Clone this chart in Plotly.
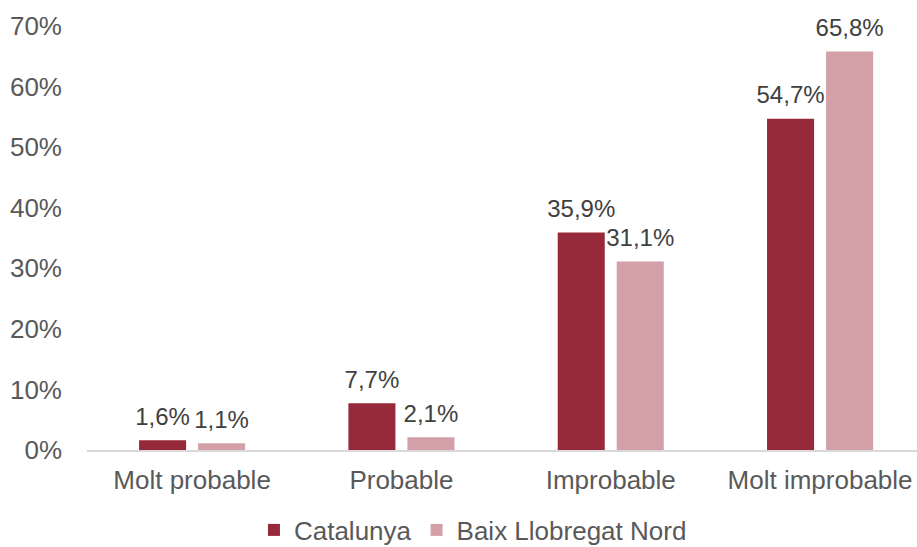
import plotly.graph_objects as go

categories = ["Molt probable", "Probable", "Improbable", "Molt improbable"]
catalunya = [1.6, 7.7, 35.9, 54.7]
baix = [1.1, 2.1, 31.1, 65.8]
series_names = ["Catalunya", "Baix Llobregat Nord"]
y_ticks = [0, 10, 20, 30, 40, 50, 60, 70]
y_tick_labels = [f"{v}%" for v in y_ticks]

colors = ["#972A3A", "#D3A0A8"]
text_color = "#595959"
font_family = "Liberation Sans, Arial, sans-serif"


def fmt(v):
    return f"{v:.1f}".replace(".", ",") + "%"


fig = go.Figure()
for i, (name, vals, col) in enumerate(zip(series_names, [catalunya, baix], colors)):
    fig.add_trace(go.Bar(
        x=categories, y=vals, name=name,
        marker=dict(color=col, line=dict(width=0)),
        offsetgroup=str(i), alignmentgroup="a",
        cliponaxis=False,
    ))
for i, (name, vals) in enumerate(zip(series_names, [catalunya, baix])):
    fig.add_trace(go.Scatter(
        x=categories, y=vals, mode="markers+text",
        text=[fmt(v) for v in vals], textposition="top center",
        marker=dict(size=14, opacity=0, color="white"),
        textfont=dict(size=24, color="#404040", family=font_family),
        offsetgroup=str(i), alignmentgroup="a",
        showlegend=False, hoverinfo="skip", cliponaxis=False,
    ))

fig.update_layout(
    width=917, height=547,
    margin=dict(l=87, r=0, t=26, b=97, autoexpand=False),
    plot_bgcolor="white", paper_bgcolor="white",
    barmode="group", bargap=0.436, bargroupgap=0.203,
    scattermode="group", scattergap=0.436,
    font=dict(family=font_family, color=text_color, size=26),
    showlegend=True,
    legend=dict(orientation="h", x=0.465, xanchor="center",
                yref="container", y=17 / 547, yanchor="middle",
                font=dict(size=26, color=text_color), traceorder="normal"),
)
fig.update_xaxes(
    range=[-0.502, 3.463], showline=True, linecolor="#D9D9D9", linewidth=2,
    showgrid=False, ticks="", tickfont=dict(size=26, color=text_color),
    ticklabelstandoff=6,
)
fig.update_yaxes(
    range=[0, 70], tickvals=y_ticks, ticktext=y_tick_labels,
    showgrid=False, showline=False, zeroline=False, ticks="",
    tickfont=dict(size=26, color=text_color), ticklabelstandoff=24,
)
fig.write_html("out.html")
